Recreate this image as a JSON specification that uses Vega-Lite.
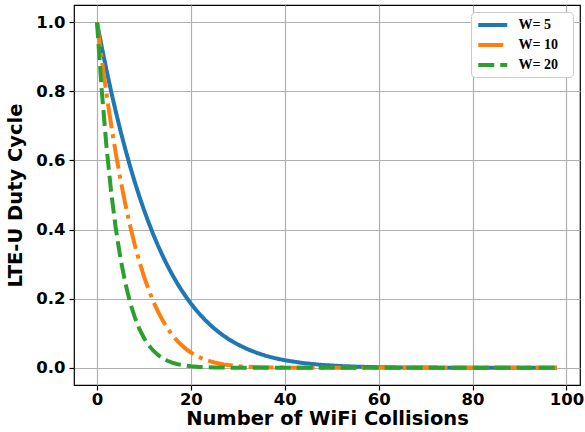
{
  "$schema": "https://vega.github.io/schema/vega-lite/v6.json",
  "width": 506,
  "height": 380,
  "autosize": {"type": "none"},
  "padding": {"left": 74, "top": 5, "right": 5, "bottom": 47},
  "background": "white",
  "config": {
    "view": {"stroke": "black", "strokeWidth": 1.2},
    "font": "DejaVu Sans"
  },
  "datasets": {
    "curves": [
      {"x": 0, "y": 1.0, "W": "W= 5"}, {"x": 1, "y": 0.9296, "W": "W= 5"}, {"x": 2, "y": 0.8632, "W": "W= 5"},
      {"x": 3, "y": 0.8005, "W": "W= 5"}, {"x": 4, "y": 0.7416, "W": "W= 5"}, {"x": 5, "y": 0.6861, "W": "W= 5"},
      {"x": 6, "y": 0.6342, "W": "W= 5"}, {"x": 7, "y": 0.5854, "W": "W= 5"}, {"x": 8, "y": 0.5397, "W": "W= 5"},
      {"x": 9, "y": 0.497, "W": "W= 5"}, {"x": 10, "y": 0.4572, "W": "W= 5"}, {"x": 11, "y": 0.4201, "W": "W= 5"},
      {"x": 12, "y": 0.3855, "W": "W= 5"}, {"x": 13, "y": 0.3534, "W": "W= 5"}, {"x": 14, "y": 0.3235, "W": "W= 5"},
      {"x": 15, "y": 0.2958, "W": "W= 5"}, {"x": 16, "y": 0.2703, "W": "W= 5"}, {"x": 17, "y": 0.2466, "W": "W= 5"},
      {"x": 18, "y": 0.2247, "W": "W= 5"}, {"x": 19, "y": 0.2045, "W": "W= 5"}, {"x": 20, "y": 0.1859, "W": "W= 5"},
      {"x": 21, "y": 0.1688, "W": "W= 5"}, {"x": 22, "y": 0.1531, "W": "W= 5"}, {"x": 23, "y": 0.1387, "W": "W= 5"},
      {"x": 24, "y": 0.1255, "W": "W= 5"}, {"x": 25, "y": 0.1134, "W": "W= 5"}, {"x": 26, "y": 0.1024, "W": "W= 5"},
      {"x": 27, "y": 0.0924, "W": "W= 5"}, {"x": 28, "y": 0.0832, "W": "W= 5"}, {"x": 29, "y": 0.0748, "W": "W= 5"},
      {"x": 30, "y": 0.0672, "W": "W= 5"}, {"x": 32, "y": 0.0541, "W": "W= 5"}, {"x": 34, "y": 0.0433, "W": "W= 5"},
      {"x": 36, "y": 0.0345, "W": "W= 5"}, {"x": 38, "y": 0.0274, "W": "W= 5"}, {"x": 40, "y": 0.0216, "W": "W= 5"},
      {"x": 44, "y": 0.0133, "W": "W= 5"}, {"x": 48, "y": 0.008, "W": "W= 5"}, {"x": 52, "y": 0.0048, "W": "W= 5"},
      {"x": 56, "y": 0.0028, "W": "W= 5"}, {"x": 60, "y": 0.0016, "W": "W= 5"}, {"x": 65, "y": 0.0008, "W": "W= 5"},
      {"x": 70, "y": 0.0004, "W": "W= 5"}, {"x": 75, "y": 0.0002, "W": "W= 5"}, {"x": 80, "y": 0.0001, "W": "W= 5"},
      {"x": 85, "y": 0.0, "W": "W= 5"}, {"x": 90, "y": 0.0, "W": "W= 5"}, {"x": 95, "y": 0.0, "W": "W= 5"},
      {"x": 98, "y": 0.0, "W": "W= 5"},
      {"x": 0, "y": 1.0, "W": "W= 10"}, {"x": 1, "y": 0.8938, "W": "W= 10"}, {"x": 2, "y": 0.7952, "W": "W= 10"},
      {"x": 3, "y": 0.7042, "W": "W= 10"}, {"x": 4, "y": 0.6208, "W": "W= 10"}, {"x": 5, "y": 0.5447, "W": "W= 10"},
      {"x": 6, "y": 0.4758, "W": "W= 10"}, {"x": 7, "y": 0.4137, "W": "W= 10"}, {"x": 8, "y": 0.358, "W": "W= 10"},
      {"x": 9, "y": 0.3084, "W": "W= 10"}, {"x": 10, "y": 0.2645, "W": "W= 10"}, {"x": 11, "y": 0.2258, "W": "W= 10"},
      {"x": 12, "y": 0.1918, "W": "W= 10"}, {"x": 13, "y": 0.1622, "W": "W= 10"}, {"x": 14, "y": 0.1366, "W": "W= 10"},
      {"x": 15, "y": 0.1145, "W": "W= 10"}, {"x": 16, "y": 0.0955, "W": "W= 10"}, {"x": 17, "y": 0.0793, "W": "W= 10"},
      {"x": 18, "y": 0.0655, "W": "W= 10"}, {"x": 19, "y": 0.0539, "W": "W= 10"}, {"x": 20, "y": 0.0442, "W": "W= 10"},
      {"x": 21, "y": 0.036, "W": "W= 10"}, {"x": 22, "y": 0.0292, "W": "W= 10"}, {"x": 23, "y": 0.0236, "W": "W= 10"},
      {"x": 24, "y": 0.019, "W": "W= 10"}, {"x": 25, "y": 0.0152, "W": "W= 10"}, {"x": 26, "y": 0.0121, "W": "W= 10"},
      {"x": 27, "y": 0.0096, "W": "W= 10"}, {"x": 28, "y": 0.0076, "W": "W= 10"}, {"x": 30, "y": 0.0047, "W": "W= 10"},
      {"x": 32, "y": 0.0028, "W": "W= 10"}, {"x": 35, "y": 0.0013, "W": "W= 10"}, {"x": 40, "y": 0.0003, "W": "W= 10"},
      {"x": 45, "y": 0.0, "W": "W= 10"}, {"x": 50, "y": 0.0, "W": "W= 10"}, {"x": 60, "y": 0.0, "W": "W= 10"},
      {"x": 70, "y": 0.0, "W": "W= 10"}, {"x": 80, "y": 0.0, "W": "W= 10"}, {"x": 90, "y": 0.0, "W": "W= 10"},
      {"x": 98, "y": 0.0, "W": "W= 10"},
      {"x": 0, "y": 1.0, "W": "W= 20"}, {"x": 1, "y": 0.8041, "W": "W= 20"}, {"x": 2, "y": 0.6427, "W": "W= 20"},
      {"x": 3, "y": 0.5107, "W": "W= 20"}, {"x": 4, "y": 0.4033, "W": "W= 20"}, {"x": 5, "y": 0.3166, "W": "W= 20"},
      {"x": 6, "y": 0.2471, "W": "W= 20"}, {"x": 7, "y": 0.1917, "W": "W= 20"}, {"x": 8, "y": 0.1478, "W": "W= 20"},
      {"x": 9, "y": 0.1133, "W": "W= 20"}, {"x": 10, "y": 0.0863, "W": "W= 20"}, {"x": 11, "y": 0.0653, "W": "W= 20"},
      {"x": 12, "y": 0.0492, "W": "W= 20"}, {"x": 13, "y": 0.0368, "W": "W= 20"}, {"x": 14, "y": 0.0274, "W": "W= 20"},
      {"x": 15, "y": 0.0202, "W": "W= 20"}, {"x": 16, "y": 0.0149, "W": "W= 20"}, {"x": 17, "y": 0.0109, "W": "W= 20"},
      {"x": 18, "y": 0.0079, "W": "W= 20"}, {"x": 19, "y": 0.0057, "W": "W= 20"}, {"x": 20, "y": 0.0041, "W": "W= 20"},
      {"x": 22, "y": 0.0021, "W": "W= 20"}, {"x": 25, "y": 0.0007, "W": "W= 20"}, {"x": 30, "y": 0.0001, "W": "W= 20"},
      {"x": 40, "y": 0.0, "W": "W= 20"}, {"x": 50, "y": 0.0, "W": "W= 20"}, {"x": 60, "y": 0.0, "W": "W= 20"},
      {"x": 70, "y": 0.0, "W": "W= 20"}, {"x": 80, "y": 0.0, "W": "W= 20"}, {"x": 90, "y": 0.0, "W": "W= 20"},
      {"x": 98, "y": 0.0, "W": "W= 20"}
    ]
  },
  "data": {"name": "curves"},
  "mark": {"type": "line", "strokeWidth": 4, "clip": true},
  "encoding": {
    "x": {
      "field": "x", "type": "quantitative",
      "scale": {"domain": [-4.9, 102.9], "nice": false, "zero": false},
      "axis": {
        "title": "Number of WiFi Collisions",
        "values": [0, 20, 40, 60, 80, 100],
        "format": "d",
        "grid": true, "gridColor": "#b0b0b0", "gridWidth": 1.2,
        "domain": false,
        "tickColor": "black", "tickSize": 5, "tickWidth": 1.2,
        "labelFont": "DejaVu Sans", "labelFontWeight": "bold", "labelFontSize": 16.5, "labelColor": "black", "labelPadding": 1,
        "titleFont": "DejaVu Sans", "titleFontWeight": "bold", "titleFontSize": 19.5, "titleColor": "black", "titlePadding": 2
      }
    },
    "y": {
      "field": "y", "type": "quantitative",
      "scale": {"domain": [-0.05, 1.05], "nice": false, "zero": false},
      "axis": {
        "title": "LTE-U Duty Cycle",
        "values": [0, 0.2, 0.4, 0.6, 0.8, 1.0],
        "format": ".1f",
        "grid": true, "gridColor": "#b0b0b0", "gridWidth": 1.2,
        "domain": false,
        "tickColor": "black", "tickSize": 5, "tickWidth": 1.2,
        "labelFont": "DejaVu Sans", "labelFontWeight": "bold", "labelFontSize": 16.5, "labelColor": "black", "labelPadding": 4,
        "titleFont": "DejaVu Sans", "titleFontWeight": "bold", "titleFontSize": 19.5, "titleColor": "black", "titlePadding": 10
      }
    },
    "color": {
      "field": "W", "type": "nominal",
      "scale": {"domain": ["W= 5", "W= 10", "W= 20"], "range": ["#1f77b4", "#ff7f0e", "#2ca02c"]},
      "legend": {
        "title": "\u00a0",
        "titleOrient": "right",
        "titlePadding": 12,
        "titleFontSize": 10,
        "orient": "top-right",
        "offset": 7,
        "padding": 3.5,
        "fillColor": "white",
        "strokeColor": "#cccccc",
        "cornerRadius": 4,
        "symbolType": "M-1,0H3",
        "symbolSize": 210,
        "symbolOffset": 1.5,
        "symbolStrokeWidth": 4,
        "rowPadding": 2,
        "labelFont": "Liberation Serif", "labelFontWeight": "bold", "labelFontSize": 14, "labelColor": "black", "labelOffset": 23.5
      }
    },
    "strokeDash": {
      "field": "W", "type": "nominal",
      "scale": {"domain": ["W= 5", "W= 10", "W= 20"], "range": [[1, 0], [25, 6, 4, 6], [16, 6]]},
      "legend": {
        "title": "\u00a0",
        "titleOrient": "right",
        "titlePadding": 12,
        "titleFontSize": 10,
        "orient": "top-right",
        "offset": 7,
        "padding": 3.5,
        "fillColor": "white",
        "strokeColor": "#cccccc",
        "cornerRadius": 4,
        "symbolType": "M-1,0H3",
        "symbolSize": 210,
        "symbolOffset": 1.5,
        "symbolStrokeWidth": 4,
        "rowPadding": 2,
        "labelFont": "Liberation Serif", "labelFontWeight": "bold", "labelFontSize": 14, "labelColor": "black", "labelOffset": 23.5
      }
    },
    "order": {"field": "x", "type": "quantitative"}
  }
}
